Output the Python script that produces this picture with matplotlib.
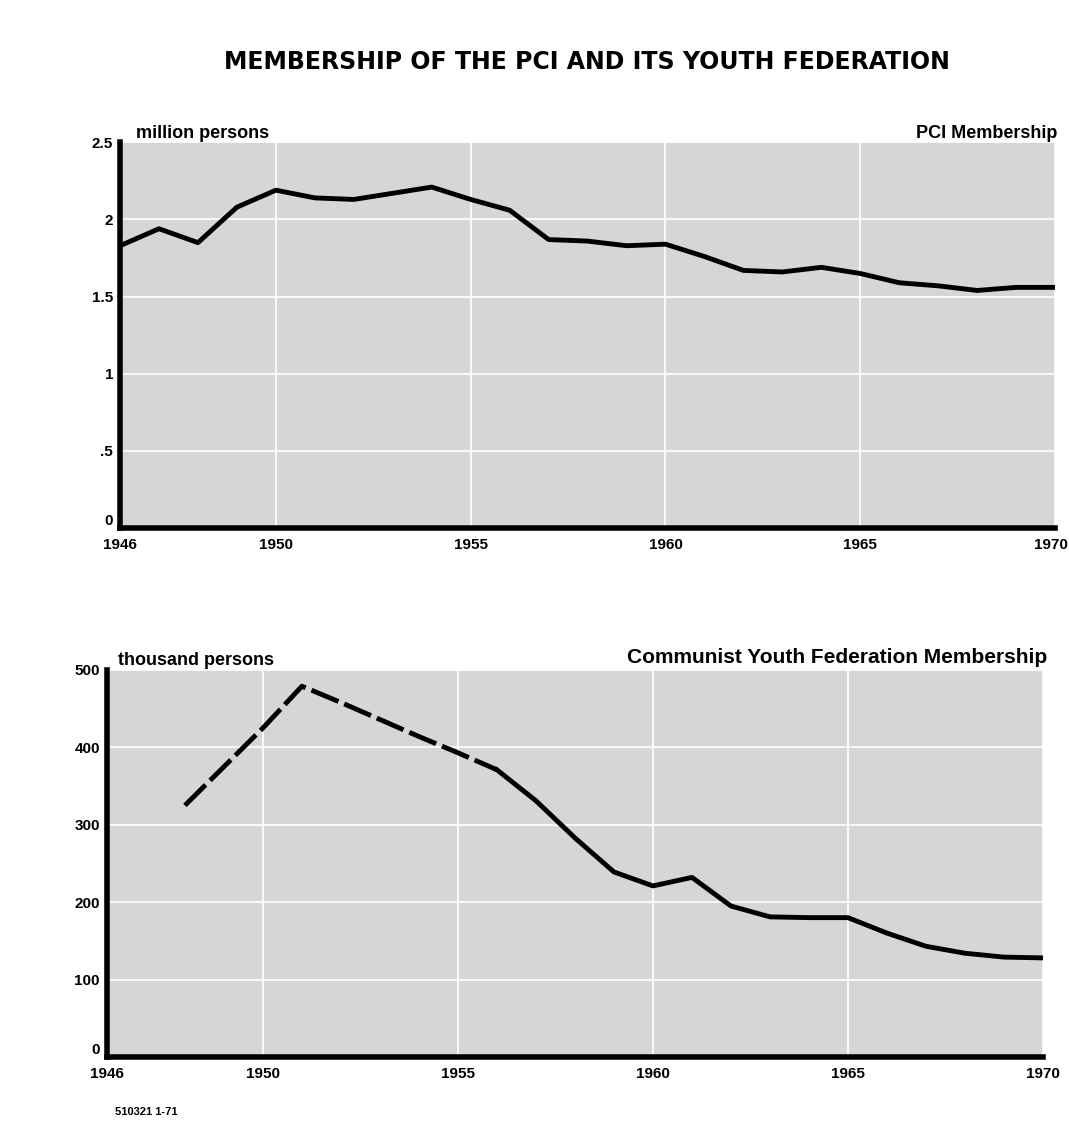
import matplotlib
matplotlib.use("Agg")
from matplotlib import pyplot as plt
from matplotlib import transforms

# PCI membership, million persons
pci_years = list(range(1946, 1971))
pci_members = [1.83, 1.94, 1.85, 2.08, 2.19, 2.14, 2.13, 2.17, 2.21, 2.13,
               2.06, 1.87, 1.86, 1.83, 1.84, 1.76, 1.67, 1.66, 1.69, 1.65,
               1.59, 1.57, 1.54, 1.56, 1.56]

# Communist Youth Federation membership, thousand persons
fgci_years_est = [1948, 1949, 1950, 1951, 1952, 1953, 1954, 1955, 1956]
fgci_est = [325, 375, 425, 479, 458, 436, 414, 393, 371]
fgci_years = list(range(1956, 1971))
fgci_members = [371, 331, 283, 239, 221, 232, 195, 181, 180, 180,
                160, 143, 134, 129, 128]

x_ticks = [1946, 1950, 1955, 1960, 1965, 1970]
pci_ticks = [0, 0.5, 1, 1.5, 2, 2.5]
pci_tick_labels = ["0", ".5", "1", "1.5", "2", "2.5"]
fgci_ticks = [0, 100, 200, 300, 400, 500]

plt.rcParams["font.family"] = ["Liberation Sans", "DejaVu Sans"]
plt.rcParams["font.weight"] = "bold"

fig = plt.figure(figsize=(10.69, 11.48), dpi=100)
fig.patch.set_facecolor("white")

ax1 = fig.add_axes([0.1123, 0.540, 0.8747, 0.336])
ax2 = fig.add_axes([0.1000, 0.0793, 0.8757, 0.3371])


def style(ax, yticks, ylabels, ymax):
    ax.set_facecolor("#d6d6d6")
    ax.set_xlim(1946, 1970)
    ax.set_ylim(0, ymax)
    ax.set_xticks(x_ticks)
    ax.set_yticks(yticks)
    ax.set_yticklabels(ylabels)
    ax.tick_params(length=0, labelsize=11)
    ax.tick_params(axis="x", pad=7)
    ax.tick_params(axis="y", pad=5)
    for lab in ax.get_xticklabels() + ax.get_yticklabels():
        lab.set_fontweight("bold")
    ax.get_yticklabels()[0].set_verticalalignment("bottom")
    ax.grid(True, color="white", lw=1.2)
    ax.set_axisbelow(True)
    for s in ["top", "right"]:
        ax.spines[s].set_visible(False)
    for s in ["left", "bottom"]:
        ax.spines[s].set_linewidth(4)
        ax.spines[s].set_color("black")


style(ax1, pci_ticks, pci_tick_labels, 2.5)
ax1.plot(pci_years, pci_members, color="black", lw=3.5, solid_joinstyle="round")
last = ax1.get_xticklabels()[-1]
last.set_horizontalalignment("right")
last.set_transform(last.get_transform() +
                   transforms.ScaledTranslation(0.13, 0, fig.dpi_scale_trans))

style(ax2, fgci_ticks, [str(t) for t in fgci_ticks], 500)
ax2.plot(fgci_years_est, fgci_est, color="black", lw=3.5,
         linestyle=(0, (6, 1.3)))
ax2.plot(fgci_years, fgci_members, color="black", lw=3.5,
         solid_joinstyle="round")

ax1.text(0.017, 1.002, "million persons", transform=ax1.transAxes,
         fontsize=13, fontweight="bold", va="bottom", ha="left")
ax1.text(1.002, 1.002, "PCI Membership", transform=ax1.transAxes,
         fontsize=13, fontweight="bold", va="bottom", ha="right")
ax2.text(0.012, 1.002, "thousand persons", transform=ax2.transAxes,
         fontsize=13, fontweight="bold", va="bottom", ha="left")
ax2.text(1.005, 1.008, "Communist Youth Federation Membership",
         transform=ax2.transAxes, fontsize=15, fontweight="bold",
         va="bottom", ha="right")

fig.text(0.549, 0.946, "MEMBERSHIP OF THE PCI AND ITS YOUTH FEDERATION",
         family=["DejaVu Sans"], fontsize=17, fontweight="heavy",
         ha="center", va="center")
fig.text(0.108, 0.031, "510321 1-71", fontsize=8, fontweight="bold",
         ha="left", va="center")

fig.savefig("out.png", dpi=100)
